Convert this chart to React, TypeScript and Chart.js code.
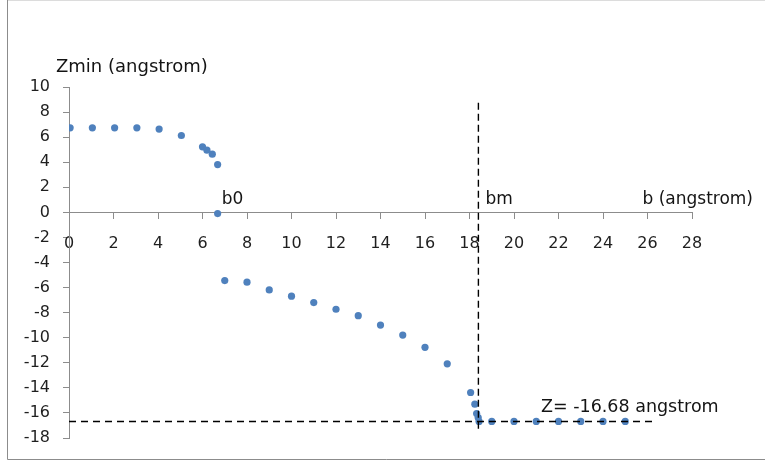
import React, { useEffect, useRef } from "react";
import { Chart, registerables } from "chart.js";

Chart.register(...registerables);

// impact parameter b (angstrom)
const bValues = [
  0.05, 1.05, 2.05, 3.05, 4.05, 5.05, 6, 6.2, 6.44, 6.68, 6.68,
  7, 8, 9, 10, 11, 12, 13, 14, 15, 16, 17, 18.05, 18.24, 18.32, 18.39, 18.43,
  19, 20, 21, 22, 23, 24, 25,
];
// Zmin (angstrom)
const zValues = [
  6.74, 6.74, 6.74, 6.74, 6.64, 6.13, 5.23, 4.96, 4.64, 3.81, -0.1,
  -5.44, -5.57, -6.19, -6.69, -7.2, -7.73, -8.24, -8.99, -9.79, -10.77, -12.08, -14.37, -15.3, -16.05, -16.37, -16.68,
  -16.68, -16.68, -16.68, -16.68, -16.68, -16.68, -16.68,
];

const xMin = 0;
const xMax = 28;
const xStep = 2;
const yMin = -18;
const yMax = 10;
const yStep = 2;

const b0 = 6.68;
const bm = 18.4;
const zFinal = -16.68;
const bmLineTop = 8.75;
const bmLineBottom = -17.3;
const zLineEnd = 26.3;

const yTitle = "Zmin (angstrom)";
const xTitle = "b (angstrom)";
const b0Label = "b0";
const bmLabel = "bm";
const zLabel = "Z= -16.68 angstrom";

const FONT = "'DejaVu Sans', Verdana, sans-serif";

const decorPlugin = {
  id: "decor",
  beforeDraw(chart: any) {
    const { ctx, width, height } = chart;
    ctx.save();
    ctx.fillStyle = "#ffffff";
    ctx.fillRect(0, 0, width, height);
    ctx.strokeStyle = "#dcdcdc";
    ctx.lineWidth = 1;
    ctx.beginPath();
    ctx.moveTo(7, 0.5);
    ctx.lineTo(width, 0.5);
    ctx.stroke();
    ctx.strokeStyle = "#8c8c8c";
    ctx.beginPath();
    ctx.moveTo(7.5, 0);
    ctx.lineTo(7.5, 459.5);
    ctx.lineTo(width, 459.5);
    ctx.stroke();
    ctx.restore();
  },
  afterDraw(chart: any) {
    const { ctx } = chart;
    const xs = chart.scales.x;
    const ys = chart.scales.y;
    ctx.save();
    ctx.fillStyle = "#141414";
    ctx.textBaseline = "middle";
    ctx.textAlign = "left";
    ctx.font = `18px ${FONT}`;
    ctx.fillText(yTitle, 56, 67);
    ctx.font = `17px ${FONT}`;
    ctx.fillText(b0Label, xs.getPixelForValue(b0) + 4, ys.getPixelForValue(0) - 13);
    ctx.fillText(bmLabel, xs.getPixelForValue(bm) + 7, ys.getPixelForValue(0) - 13);
    ctx.textAlign = "right";
    ctx.fillText(xTitle, 753, ys.getPixelForValue(0) - 13);
    ctx.textAlign = "left";
    ctx.font = `17.5px ${FONT}`;
    ctx.fillText(zLabel, 541, ys.getPixelForValue(zFinal) - 14);
    ctx.restore();
  },
};

export default function App() {
  const canvasRef = useRef<HTMLCanvasElement | null>(null);

  useEffect(() => {
    const canvas = canvasRef.current;
    if (!canvas) return;
    const points = bValues.map((b, i) => ({ x: b, y: zValues[i] }));
    const chart = new Chart(canvas, {
      type: "scatter",
      data: {
        datasets: [
          {
            label: "Zmin",
            data: points,
            pointRadius: 3.6,
            pointBackgroundColor: "#4F81BD",
            pointBorderColor: "#4F81BD",
            pointBorderWidth: 0,
            showLine: false,
            order: 2,
          },
          {
            label: "bm",
            data: [
              { x: bm, y: bmLineTop },
              { x: bm, y: bmLineBottom },
            ],
            showLine: true,
            pointRadius: 0,
            borderColor: "#000000",
            borderWidth: 1.4,
            borderDash: [7, 4],
            order: 1,
          },
          {
            label: "Zfinal",
            data: [
              { x: xMin, y: zFinal },
              { x: zLineEnd, y: zFinal },
            ],
            showLine: true,
            pointRadius: 0,
            borderColor: "#000000",
            borderWidth: 1.4,
            borderDash: [7, 5],
            order: 1,
          },
        ],
      },
      options: {
        animation: false,
        responsive: false,
        maintainAspectRatio: false,
        events: [],
        layout: { padding: { left: 7, right: 73, top: 87, bottom: 25 } },
        plugins: {
          legend: { display: false },
          tooltip: { enabled: false },
        },
        scales: {
          x: {
            type: "linear",
            position: { y: 0 } as any,
            min: xMin,
            max: xMax,
            afterFit: (scale: any) => {
              scale.height = 0;
            },
            ticks: {
              stepSize: xStep,
              autoSkip: false,
              maxRotation: 0,
              padding: 16,
              color: "#1f1f1f",
              font: { family: FONT, size: 16 },
            },
            grid: {
              drawOnChartArea: false,
              drawTicks: true,
              tickLength: 6,
              tickColor: "#8c8c8c",
            },
            border: { display: true, color: "#8c8c8c", width: 1 },
          },
          y: {
            type: "linear",
            position: "left",
            min: yMin,
            max: yMax,
            afterFit: (scale: any) => {
              scale.width = 62;
            },
            ticks: {
              stepSize: yStep,
              autoSkip: false,
              padding: 13,
              color: "#1f1f1f",
              font: { family: FONT, size: 16 },
            },
            grid: {
              drawOnChartArea: false,
              drawTicks: true,
              tickLength: 6,
              tickColor: "#8c8c8c",
            },
            border: { display: true, color: "#8c8c8c", width: 1 },
          },
        },
      },
      plugins: [decorPlugin],
    });
    return () => chart.destroy();
  }, []);

  return (
    <div style={{ position: "fixed", left: 0, top: 0, width: 765, height: 463, background: "#fff" }}>
      <canvas ref={canvasRef} width={765} height={463} style={{ width: 765, height: 463, display: "block" }} />
    </div>
  );
}
